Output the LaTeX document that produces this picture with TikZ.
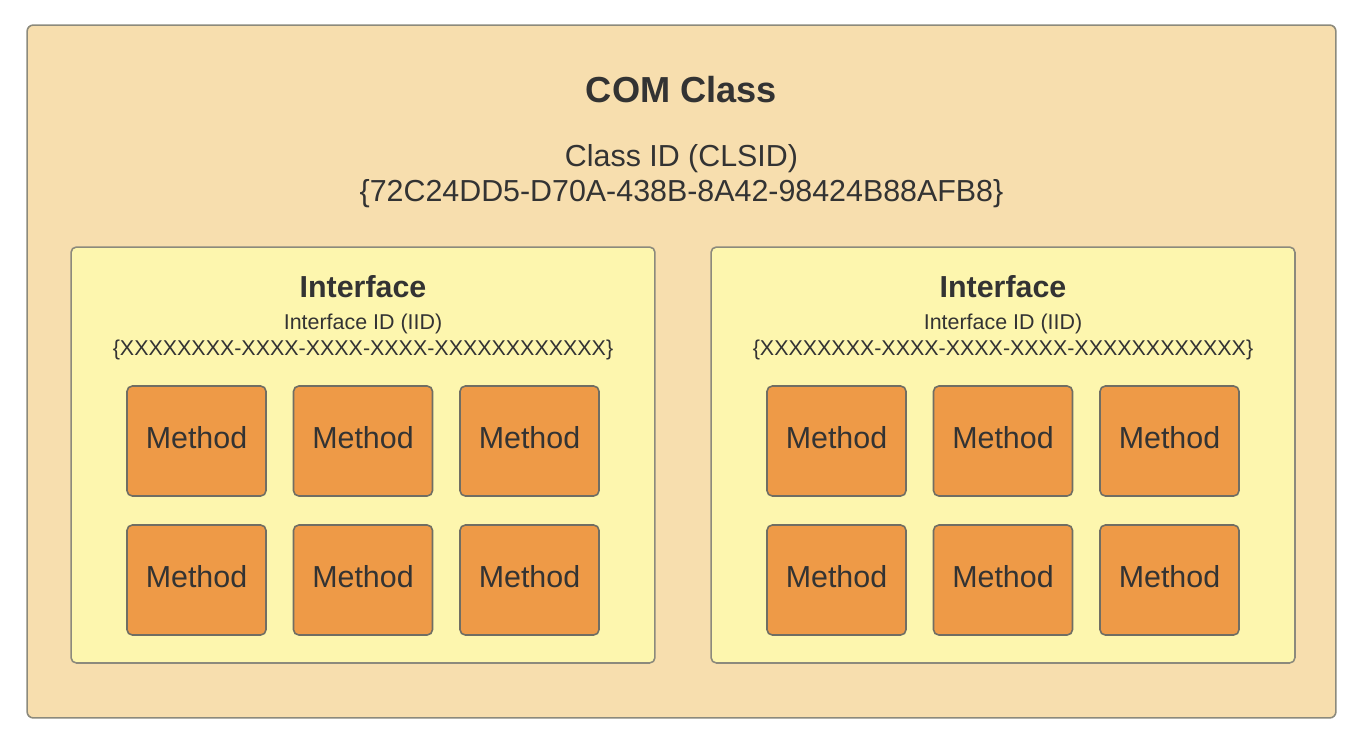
\documentclass[tikz,border=0pt]{standalone}
\usepackage{fontspec}
\setmainfont{Liberation Sans}
\usetikzlibrary{positioning}
\definecolor{classfill}{HTML}{F7DEAE}
\definecolor{iffill}{HTML}{FDF6AE}
\definecolor{methfill}{HTML}{EE9A47}
\definecolor{edge}{HTML}{8C8A7C}
\definecolor{ink}{HTML}{333333}
\tikzset{
  classbox/.style={draw=edge,fill=classfill,line width=0.9pt,rounded corners=3.5pt,
    minimum width=26.18cm,minimum height=13.86cm,inner sep=0pt},
  ifbox/.style={draw=edge,fill=iffill,line width=0.9pt,rounded corners=3pt,
    minimum width=11.68cm,minimum height=8.32cm,inner sep=0pt},
  methbox/.style={draw=edge!80!black,fill=methfill,line width=0.9pt,rounded corners=3pt,
    minimum width=2.78cm,minimum height=2.2cm,inner sep=0pt,text depth=0.16cm,
    text=ink,font=\fontsize{17.3}{20}\selectfont},
  bigtitle/.style={text=ink,font=\fontsize{20.6}{24}\selectfont\bfseries},
  midtitle/.style={text=ink,font=\fontsize{17.3}{20}\selectfont\bfseries},
  idtext/.style={text=ink,font=\fontsize{17.3}{20}\selectfont,inner sep=0pt},
  smalltext/.style={text=ink,font=\fontsize{12.2}{14}\selectfont,inner sep=0pt}
}

\begin{document}
\begin{tikzpicture}[x=0.02cm,y=-0.02cm]
    \useasboundingbox (0,0) rectangle (1355,741);
    \node[classbox] (cls) at (681.5,371.5) {};
    \node[bigtitle] (clsname) at (681.5,90) {COM Class};
    \node[idtext] (clsid) at (681.5,159) {Class ID (CLSID)};
    \node[idtext] (clsguid) at (681.5,194) {\{72C24DD5-D70A-438B-8A42-98424B88AFB8\}};
    % two interfaces, each with six methods
    \foreach \s/\cx in {l/363,r/1003}{
      \node[ifbox] (if\s) at (\cx,455) {};
      \node[midtitle] (ifname\s) at (\cx,287) {Interface};
      \node[smalltext] (iid\s) at (\cx,324) {Interface ID (IID)};
      \node[smalltext] (iidguid\s) at (\cx,350) {\{XXXXXXXX-XXXX-XXXX-XXXX-XXXXXXXXXXXX\}};
      \foreach \i/\dx in {1/-166.5,2/0,3/166.5}{
        \node[methbox] (m\s\i a) at (\cx+\dx,441) {Method};
        \node[methbox] (m\s\i b) at (\cx+\dx,580) {Method};
      }
    }
    \end{tikzpicture}
\end{document}
